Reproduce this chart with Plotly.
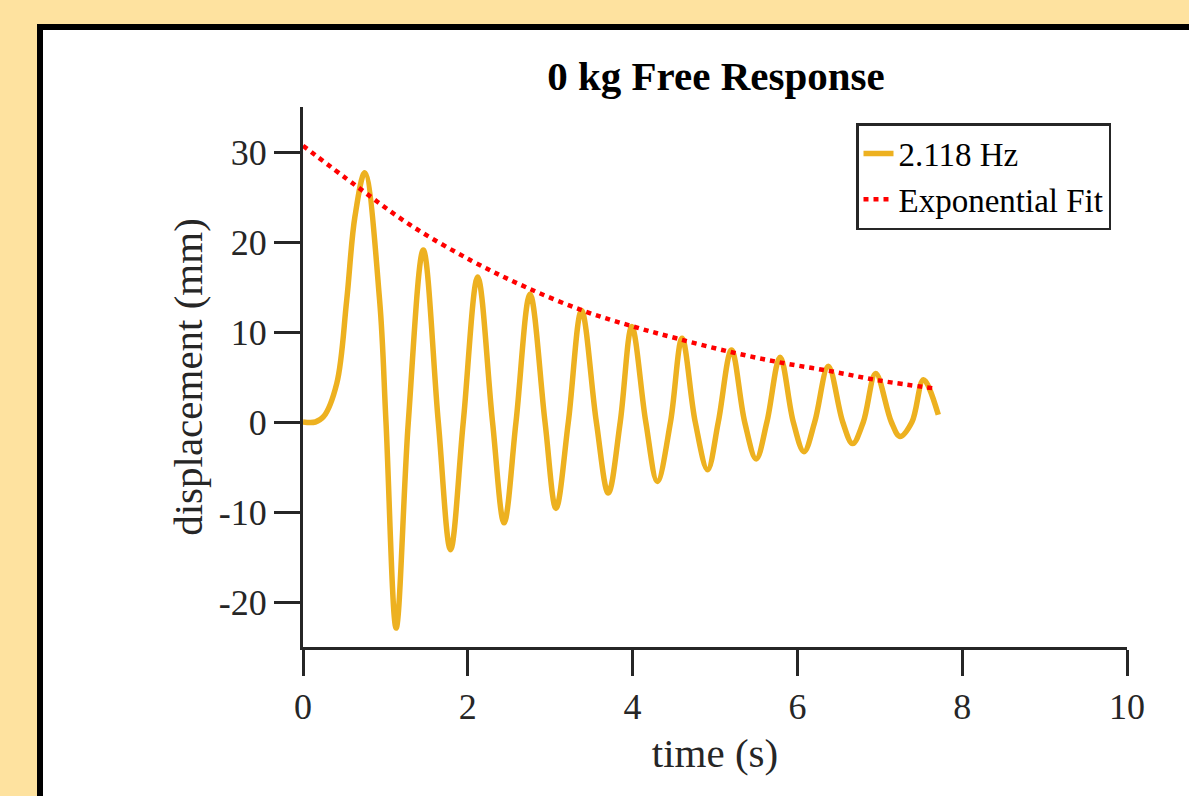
import plotly.graph_objects as go

t_signal = [0, 0.15, 0.25, 0.41, 0.53, 0.63, 0.75, 0.93, 1.007, 1.13, 1.278, 1.46, 1.642, 1.79,
            1.945, 2.12, 2.30, 2.44, 2.585, 2.755, 2.937, 3.07, 3.22, 3.38, 3.56, 3.705,
            3.85, 3.99, 4.16, 4.30, 4.46, 4.60, 4.76, 4.91, 5.04, 5.20, 5.36, 5.50,
            5.63, 5.79, 5.95, 6.08, 6.21, 6.375, 6.55, 6.67, 6.80, 6.95, 7.14, 7.245,
            7.39, 7.53, 7.71]
y_signal = [0, 0, 0.6, 4.3, 13.5, 22.8, 27.7, 13.5, 0, -22.9, 0, 19.1, 0, -14.2,
            0, 16.1, 0, -11.2, 0, 14.2, 0, -9.6, 0, 12.4, 0, -7.9,
            0, 10.6, 0, -6.6, 0, 9.3, 0, -5.3, 0, 8.0, 0, -4.1,
            0, 7.2, 0, -3.3, 0, 6.2, 0, -2.4, 0, 5.4, 0, -1.6,
            0, 4.7, 0.8]

# Exponential fit envelope
t_fit = [0, 0.65, 1.3, 2.05, 2.7, 3.42, 4.01, 4.53, 5.18, 5.8, 6.40, 7.0, 7.69]
y_fit = [30.7, 26.2, 21.9, 17.9, 15.0, 12.3, 10.6, 9.3, 7.8, 6.6, 5.65, 4.6, 3.7]

x_ticks = [0, 2, 4, 6, 8, 10]
y_ticks = [-20, -10, 0, 10, 20, 30]
y_tick_text = ["-20", "-10", "0", "10", "20", "30"]

W, H = 1189, 796
L, R, T, B = 303, 62, 107, 149
pw, ph = W - L - R, H - T - B

def px_x(p):
    return (p - L) / pw

def px_y(p):
    return (H - B - p) / ph

FONT = "Liberation Serif, Times New Roman, serif"
AX = "#262626"

fig = go.Figure()
fig.add_trace(go.Scatter(x=t_signal, y=y_signal, mode="lines", name="2.118 Hz",
                         line=dict(color="#EDB120", width=5.5, shape="spline", smoothing=1.0)))
fig.add_trace(go.Scatter(x=t_fit, y=y_fit, mode="lines", name="Exponential Fit",
                         line=dict(color="#FF0000", width=4.5, dash="5px,5px", shape="spline")))

fig.add_shape(type="rect", xref="paper", yref="paper",
              x0=px_x(40), x1=px_x(W + 20), y0=px_y(H + 20), y1=px_y(27),
              line=dict(color="black", width=6), fillcolor="white", layer="below")

fig.update_layout(
    width=W, height=H,
    margin=dict(l=L, r=R, t=T, b=B),
    paper_bgcolor="#FEE29F",
    plot_bgcolor="rgba(0,0,0,0)",
    font=dict(family=FONT, color=AX),
    title=dict(text="<b>0 kg Free Response</b>", x=px_x(716), xref="paper", xanchor="center",
               y=1 - 76 / H, yanchor="middle", yref="container",
               font=dict(family=FONT, size=41, color="black")),
    xaxis=dict(range=[0, 10], tickvals=x_ticks, ticks="outside", ticklen=26, tickwidth=3,
               tickcolor=AX, showline=True, linewidth=3, linecolor=AX, showgrid=False,
               zeroline=False, tickfont=dict(size=36, color=AX), ticklabelstandoff=0,
               title=dict(text="time (s)", font=dict(size=41, color=AX), standoff=13)),
    yaxis=dict(range=[-25, 35], tickvals=y_ticks, ticktext=y_tick_text, ticks="outside",
               ticklen=26, tickwidth=3,
               tickcolor=AX, showline=True, linewidth=3, linecolor=AX, showgrid=False,
               zeroline=False, tickfont=dict(size=36, color=AX), ticklabelstandoff=0,
               title=dict(text="displacement (mm)", font=dict(size=41, color=AX), standoff=4)),
    legend=dict(x=px_x(1111), y=px_y(123), xanchor="right", yanchor="top",
                bgcolor="white", bordercolor=AX, borderwidth=2.5,
                font=dict(family=FONT, size=33, color="black"), tracegroupgap=0,
                itemwidth=30),
    showlegend=True,
)

fig.write_html("out.html", config={"displayModeBar": False},
               post_script="document.body.style.margin='0';document.body.style.overflow='hidden';")
